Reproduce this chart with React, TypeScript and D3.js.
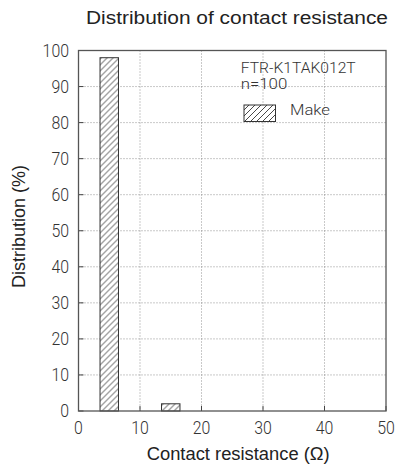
import { useEffect, useRef } from 'react';
import * as d3 from 'd3';

// bin centres (ohm), bin width and share of samples (%)
const binCenters = [5, 15];
const binWidth = 3;
const makeValues = [98, 2];
const xTicks = [0, 10, 20, 30, 40, 50];
const yTicks = [0, 10, 20, 30, 40, 50, 60, 70, 80, 90, 100];
const legendLines = ['FTR-K1TAK012T', 'n=100'];
const seriesName = 'Make';

export default function App() {
  const ref = useRef<SVGSVGElement>(null);

  useEffect(() => {
    const svg = d3.select(ref.current);
    svg.selectAll('*').remove();

    const width = 395, height = 467;
    const margin = { top: 50.5, right: 9, bottom: 56, left: 78.5 };
    const innerW = width - margin.left - margin.right;
    const innerH = height - margin.top - margin.bottom;
    // narrow face used by the original for numbers and legend
    const tickFont = 'Roboto, "Noto Sans", sans-serif';
    const labelFont = '"Liberation Sans", Arial, sans-serif';
    const digitW = 8.8;

    const x = d3.scaleLinear().domain([0, 50]).range([0, innerW]);
    const y = d3.scaleLinear().domain([0, 100]).range([innerH, 0]);

    const defs = svg.append('defs');
    const pat = defs.append('pattern')
      .attr('id', 'hatch')
      .attr('patternUnits', 'userSpaceOnUse')
      .attr('width', 6)
      .attr('height', 6);
    pat.append('rect').attr('width', 6).attr('height', 6).attr('fill', '#fff');
    pat.append('path')
      .attr('d', 'M-1,1 L1,-1 M0,6 L6,0 M5,7 L7,5')
      .attr('stroke', '#333')
      .attr('stroke-width', 0.9);

    // title
    svg.append('text')
      .attr('x', 86)
      .attr('y', 24.3)
      .attr('font-family', labelFont)
      .attr('font-size', 17.5)
      .attr('textLength', 302)
      .attr('lengthAdjust', 'spacingAndGlyphs')
      .attr('fill', '#222')
      .text('Distribution of contact resistance');

    const g = svg.append('g').attr('transform', `translate(${margin.left},${margin.top})`);

    // grid lines
    g.selectAll('.gy')
      .data(yTicks.slice(1, -1))
      .enter().append('line')
      .attr('x1', 0).attr('x2', innerW)
      .attr('y1', d => y(d)).attr('y2', d => y(d))
      .attr('stroke', '#777')
      .attr('stroke-width', 0.8)
      .attr('stroke-dasharray', '1,2');
    g.selectAll('.gx')
      .data(xTicks.slice(1, -1))
      .enter().append('line')
      .attr('y1', 0).attr('y2', innerH)
      .attr('x1', d => x(d)).attr('x2', d => x(d))
      .attr('stroke', '#777')
      .attr('stroke-width', 0.8)
      .attr('stroke-dasharray', '1,2');

    // bars
    g.selectAll('.bar')
      .data(binCenters)
      .enter().append('rect')
      .attr('x', d => x(d - binWidth / 2))
      .attr('width', x(binWidth) - x(0))
      .attr('y', (d, i) => y(makeValues[i]))
      .attr('height', (d, i) => innerH - y(makeValues[i]))
      .attr('fill', 'url(#hatch)')
      .attr('stroke', '#333')
      .attr('stroke-width', 1);

    // inward ticks
    g.selectAll('.ty')
      .data(yTicks)
      .enter().append('line')
      .attr('x1', 0).attr('x2', 5)
      .attr('y1', d => y(d)).attr('y2', d => y(d))
      .attr('stroke', '#444');
    g.selectAll('.tx')
      .data(xTicks)
      .enter().append('line')
      .attr('y1', innerH).attr('y2', innerH - 5)
      .attr('x1', d => x(d)).attr('x2', d => x(d))
      .attr('stroke', '#444');

    // frame
    g.append('rect')
      .attr('width', innerW)
      .attr('height', innerH)
      .attr('fill', 'none')
      .attr('stroke', '#555')
      .attr('stroke-width', 1.3);

    // tick labels
    g.selectAll('.ly')
      .data(yTicks)
      .enter().append('text')
      .attr('x', -9.5)
      .attr('y', d => y(d))
      .attr('dy', '0.36em')
      .attr('text-anchor', 'end')
      .attr('font-family', tickFont)
      .attr('font-weight', 300)
      .attr('font-size', 17.5)
      .attr('textLength', d => String(d).length * digitW)
      .attr('lengthAdjust', 'spacingAndGlyphs')
      .attr('fill', '#333')
      .text(d => d);
    g.selectAll('.lx')
      .data(xTicks)
      .enter().append('text')
      .attr('x', d => x(d))
      .attr('y', innerH + 22.5)
      .attr('text-anchor', 'middle')
      .attr('font-family', tickFont)
      .attr('font-weight', 300)
      .attr('font-size', 17.5)
      .attr('textLength', d => String(d).length * digitW)
      .attr('lengthAdjust', 'spacingAndGlyphs')
      .attr('fill', '#333')
      .text(d => d);

    // axis titles
    svg.append('text')
      .attr('x', 146.7)
      .attr('y', 460)
      .attr('font-family', labelFont)
      .attr('font-size', 17.5)
      .attr('textLength', 183)
      .attr('lengthAdjust', 'spacingAndGlyphs')
      .attr('fill', '#222')
      .text('Contact resistance (Ω)');
    svg.append('text')
      .attr('transform', `translate(25,226.5) rotate(-90)`)
      .attr('text-anchor', 'middle')
      .attr('font-family', labelFont)
      .attr('font-size', 18)
      .attr('fill', '#222')
      .text('Distribution (%)');

    // legend
    const legendW = [115, 46.6];
    const lg = svg.append('g');
    lg.selectAll('.ll')
      .data(legendLines)
      .enter().append('text')
      .attr('x', 240.7)
      .attr('y', (d, i) => 73 + i * 15.5)
      .attr('font-family', tickFont)
      .attr('font-weight', 300)
      .attr('font-size', 15.5)
      .attr('textLength', (d, i) => legendW[i])
      .attr('lengthAdjust', 'spacingAndGlyphs')
      .attr('fill', '#333')
      .text(d => d);
    lg.append('rect')
      .attr('x', 244).attr('y', 105)
      .attr('width', 31.5).attr('height', 16.5)
      .attr('fill', 'url(#hatch)')
      .attr('stroke', '#333');
    lg.append('text')
      .attr('x', 290).attr('y', 115)
      .attr('font-family', tickFont)
      .attr('font-weight', 300)
      .attr('font-size', 15.5)
      .attr('textLength', 40)
      .attr('lengthAdjust', 'spacingAndGlyphs')
      .attr('fill', '#333')
      .text(seriesName);
  }, []);

  return (
    <svg
      ref={ref}
      width={395}
      height={467}
      style={{ position: 'absolute', left: 0, top: 0, background: '#fff' }}
    />
  );
}
